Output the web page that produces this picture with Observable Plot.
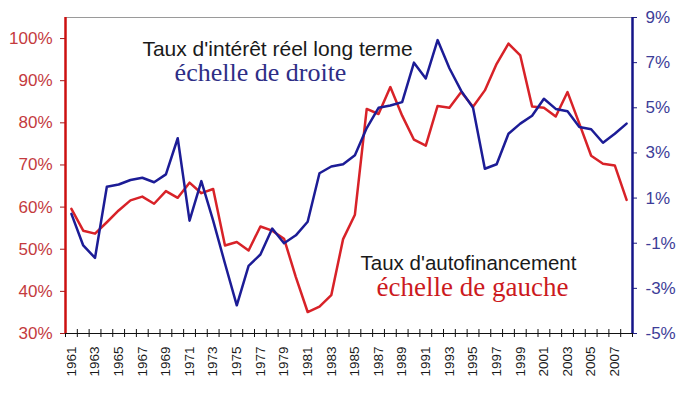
<!DOCTYPE html>
<html><head><meta charset="utf-8">
<script src="https://cdn.jsdelivr.net/npm/d3@7"></script>
<script src="https://cdn.jsdelivr.net/npm/@observablehq/plot@0.6"></script>
<style>body{margin:0;background:#fff;}</style>
</head><body><div id="chart"></div>
<script>
const years = [1961,1962,1963,1964,1965,1966,1967,1968,1969,1970,1971,1972,1973,1974,1975,1976,1977,1978,1979,1980,
  1981,1982,1983,1984,1985,1986,1987,1988,1989,1990,1991,1992,1993,1994,1995,1996,1997,1998,1999,2000,
  2001,2002,2003,2004,2005,2006,2007,2008];
// Taux d'autofinancement (échelle de gauche, %)
const autofinancement = [59.6,54.4,53.7,56.4,59.2,61.6,62.5,60.8,63.8,62.2,65.8,63.3,64.3,50.9,51.7,49.7,55.4,54.4,52.5,43.4,
  35.1,36.4,39.1,52.4,58.2,83.3,82.1,88.5,81.7,76.0,74.6,84.0,83.6,87.3,83.8,87.7,94.0,98.8,96.0,83.9,
  83.6,81.5,87.3,79.8,72.2,70.3,69.9,61.7];
// Taux d'intérêt réel long terme (échelle de droite, %)
const tauxReel = [0.3,-1.1,-1.65,1.5,1.6,1.8,1.9,1.7,2.05,3.65,0.0,1.75,0.0,-1.9,-3.75,-2.0,-1.5,-0.35,-1.0,-0.65,
  -0.05,2.1,2.4,2.5,2.9,4.1,5.0,5.1,5.25,7.0,6.3,8.0,6.75,5.75,5.0,2.3,2.5,3.85,4.3,4.65,
  5.4,4.95,4.85,4.15,4.05,3.45,3.85,4.3];
const leftTicks = [30,40,50,60,70,80,90,100];
const rightTicks = [-5,-3,-1,1,3,5,7,9];
const xLabelYears = [1961,1963,1965,1967,1969,1971,1973,1975,1977,1979,1981,1983,1985,1987,1989,1991,1993,1995,1997,1999,2001,2003,2005,2007];
const leftDomain = [30,105];
const rightDomain = [-5,9];
const xDomain = [1960.5, 2008.5];
const title1 = ["Taux d'intérêt réel long terme"];
const sub1 = ["échelle de droite"];
const title2 = ["Taux d'autofinancement"];
const sub2 = ["échelle de gauche"];

const toLeft = v => leftDomain[0] + (v - rightDomain[0]) * (leftDomain[1]-leftDomain[0]) / (rightDomain[1]-rightDomain[0]);
const fromLeft = d => rightDomain[0] + (d - leftDomain[0]) * (rightDomain[1]-rightDomain[0]) / (leftDomain[1]-leftDomain[0]);
const boundaries = years.map(y => y - 0.5).concat([years[years.length-1] + 0.5]);

const redRows = years.map((y,i) => ({year: y, v: autofinancement[i]}));
const blueRows = years.map((y,i) => ({year: y, v: toLeft(tauxReel[i])}));

const RED = "#d82228", BLUE = "#1c1c96";
const sans = "'Liberation Sans', Arial, sans-serif";
const serif = "'Liberation Serif', 'Times New Roman', serif";

const chart = Plot.plot({
  width: 684, height: 397,
  marginLeft: 65, marginRight: 52, marginTop: 17, marginBottom: 64,
  style: {fontFamily: sans, background: "#fff"},
  x: {domain: xDomain, axis: null},
  y: {domain: leftDomain, axis: null},
  marks: [
    Plot.frame({stroke: "#9a9a9a", strokeWidth: 1}),
    Plot.ruleY([leftDomain[0]], {stroke: "#111", strokeWidth: 1.2}),
    Plot.axisX({ticks: boundaries, tickSize: 8, dy: -4, tickFormat: () => "", stroke: "#111", label: null}),
    Plot.axisX({ticks: xLabelYears, tickSize: 0, tickPadding: 13, tickRotate: -90, tickFormat: d => String(d), fontSize: 13.5, fill: "#1a1a1a", label: null}),
    Plot.axisY({ticks: leftTicks, anchor: "left", tickSize: 5, tickPadding: 8, tickFormat: d => d + "%", fontSize: 17, color: "#c43a3e", stroke: "#a01818", label: null}),
    Plot.axisY({ticks: rightTicks.map(toLeft), anchor: "right", tickSize: 4, tickPadding: 9, tickFormat: d => Math.round(fromLeft(d)) + "%", fontSize: 17, color: "#3d3d98", stroke: "#1c1c80", label: null}),
    Plot.ruleX([xDomain[0]], {stroke: "#cc1010", strokeWidth: 2.5}),
    Plot.ruleX([xDomain[1]], {stroke: "#141488", strokeWidth: 2.5}),
    Plot.line(redRows, {x: "year", y: "v", stroke: RED, strokeWidth: 2.5}),
    Plot.line(blueRows, {x: "year", y: "v", stroke: BLUE, strokeWidth: 2.5}),
    Plot.text(title1, {frameAnchor: "top-left", dx: 212, dy: 23.5, text: d => d, fontSize: 21, fill: "#1a1a1a", textAnchor: "middle"}),
    Plot.text(sub1, {frameAnchor: "top-left", dx: 195, dy: 45, text: d => d, fontSize: 26, fontFamily: serif, fill: "#2e2e86", textAnchor: "middle"}),
    Plot.text(title2, {frameAnchor: "top-left", dx: 403, dy: 237.5, text: d => d, fontSize: 20.5, fill: "#1a1a1a", textAnchor: "middle"}),
    Plot.text(sub2, {frameAnchor: "top-left", dx: 407, dy: 259.5, text: d => d, fontSize: 27, fontFamily: serif, fill: "#cc1a1e", textAnchor: "middle"})
  ]
});
document.getElementById("chart").appendChild(chart);
</script>
</body></html>
